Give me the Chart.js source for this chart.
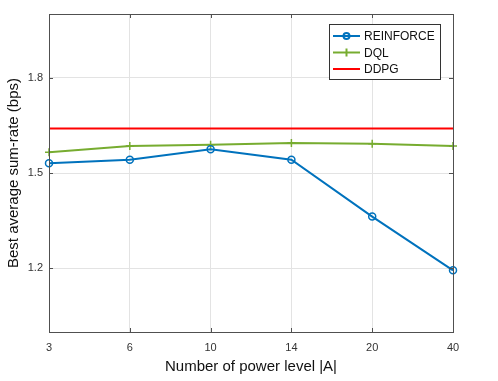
<!DOCTYPE html>
<html>
<head>
<meta charset="utf-8">
<script src="https://cdn.jsdelivr.net/npm/chart.js@4.4.1/dist/chart.umd.min.js"></script>
<style>
  html, body { margin: 0; padding: 0; background: #fff; }
  #wrap { width: 498px; height: 381px; }
</style>
</head>
<body>
<div id="wrap"><canvas id="chart" width="498" height="381"></canvas></div>
<script>
const powerLevels = ['3', '6', '10', '14', '20', '40'];
const reinforce = [1.531, 1.542, 1.575, 1.542, 1.363, 1.194];
const dql = [1.565, 1.585, 1.589, 1.594, 1.592, 1.585];
const ddpg = [1.640, 1.640, 1.640, 1.640, 1.640, 1.640];
const yTicks = [1.2, 1.5, 1.8];

const axisColor = '#505050';
const fontFamily = '"Liberation Sans", Arial, sans-serif';

// box around plot + inward tick marks + legend inside the plot
const boxPlugin = {
    id: 'box',
    afterDraw(chart) {
        const ctx = chart.ctx;
        const a = chart.chartArea;
        const xs = chart.scales.x, ys = chart.scales.y;
        ctx.save();
        ctx.strokeStyle = axisColor;
        ctx.lineWidth = 1;
        ctx.strokeRect(a.left + 0.5, a.top + 0.5, a.right - a.left, a.bottom - a.top);
        ctx.beginPath();
        powerLevels.forEach((p, i) => {
            const x = Math.round(xs.getPixelForValue(i)) + 0.5;
            ctx.moveTo(x, a.bottom); ctx.lineTo(x, a.bottom - 4);
            ctx.moveTo(x, a.top); ctx.lineTo(x, a.top + 4);
        });
        yTicks.forEach(v => {
            const y = Math.round(ys.getPixelForValue(v)) + 0.5;
            ctx.moveTo(a.left, y); ctx.lineTo(a.left + 4, y);
            ctx.moveTo(a.right, y); ctx.lineTo(a.right - 4, y);
        });
        ctx.stroke();

        // legend
        const lx = 329, ly = 24, lw = 111, lh = 55;
        ctx.fillStyle = '#fff';
        ctx.fillRect(lx, ly, lw, lh);
        ctx.strokeStyle = '#333';
        ctx.strokeRect(lx + 0.5, ly + 0.5, lw, lh);
        ctx.font = '12px ' + fontFamily;
        ctx.textBaseline = 'middle';
        chart.data.datasets.forEach((ds, i) => {
            const y = ly + 12 + i * 16.5;
            ctx.strokeStyle = ds.borderColor;
            ctx.lineWidth = 2;
            ctx.beginPath();
            ctx.moveTo(lx + 4, y); ctx.lineTo(lx + 31, y);
            ctx.stroke();
            if (ds.pointStyle === 'circle') {
                ctx.beginPath();
                ctx.arc(lx + 17.5, y, 3, 0, Math.PI * 2);
                ctx.stroke();
            } else if (ds.pointStyle === 'cross') {
                ctx.beginPath();
                ctx.moveTo(lx + 17.5, y - 4); ctx.lineTo(lx + 17.5, y + 4);
                ctx.stroke();
            }
            ctx.fillStyle = '#111';
            ctx.fillText(ds.label, lx + 35, y + 1);
        });
        ctx.restore();
    }
};

new Chart(document.getElementById('chart'), {
    type: 'line',
    data: {
        labels: powerLevels,
        datasets: [
            {
                label: 'REINFORCE', data: reinforce,
                borderColor: '#0072BD', backgroundColor: '#0072BD',
                borderWidth: 2, pointStyle: 'circle', pointRadius: 3.5,
                pointBorderWidth: 1.5, pointBackgroundColor: 'rgba(0,0,0,0)',
                tension: 0
            },
            {
                label: 'DQL', data: dql,
                borderColor: '#77AC30', backgroundColor: '#77AC30',
                borderWidth: 2, pointStyle: 'cross', pointRadius: 4,
                pointBorderWidth: 1.5, tension: 0
            },
            {
                label: 'DDPG', data: ddpg,
                borderColor: '#FF0000', backgroundColor: '#FF0000',
                borderWidth: 2, pointRadius: 0, tension: 0
            }
        ]
    },
    options: {
        responsive: false,
        animation: false,
        layout: { padding: { left: 0, right: 45, top: 14, bottom: 0 } },
        plugins: {
            legend: { display: false },
            tooltip: { enabled: false }
        },
        scales: {
            x: {
                type: 'category',
                offset: false,
                grid: { color: '#e3e3e3', drawTicks: false },
                border: { display: false },
                ticks: { color: '#333', padding: 9, font: { family: fontFamily, size: 11 }, maxRotation: 0 },
                title: {
                    display: true, text: 'Number of power level |A|', color: '#111',
                    font: { family: fontFamily, size: 15 }, padding: { top: 4, bottom: 5 }
                },
                afterFit(scale) { scale.height = 49; }
            },
            y: {
                min: 1.0, max: 2.0,
                afterBuildTicks(scale) { scale.ticks = yTicks.map(v => ({ value: v })); },
                grid: { color: '#e3e3e3', drawTicks: false },
                border: { display: false },
                ticks: {
                    color: '#333', padding: 6, font: { family: fontFamily, size: 11 },
                    callback: v => v.toFixed(1)
                },
                title: {
                    display: true, text: 'Best average sum-rate (bps)', color: '#111',
                    font: { family: fontFamily, size: 15 }, padding: { top: 5, bottom: 2 }
                },
                afterFit(scale) { scale.width = 49; }
            }
        }
    },
    plugins: [boxPlugin]
});
</script>
</body>
</html>
